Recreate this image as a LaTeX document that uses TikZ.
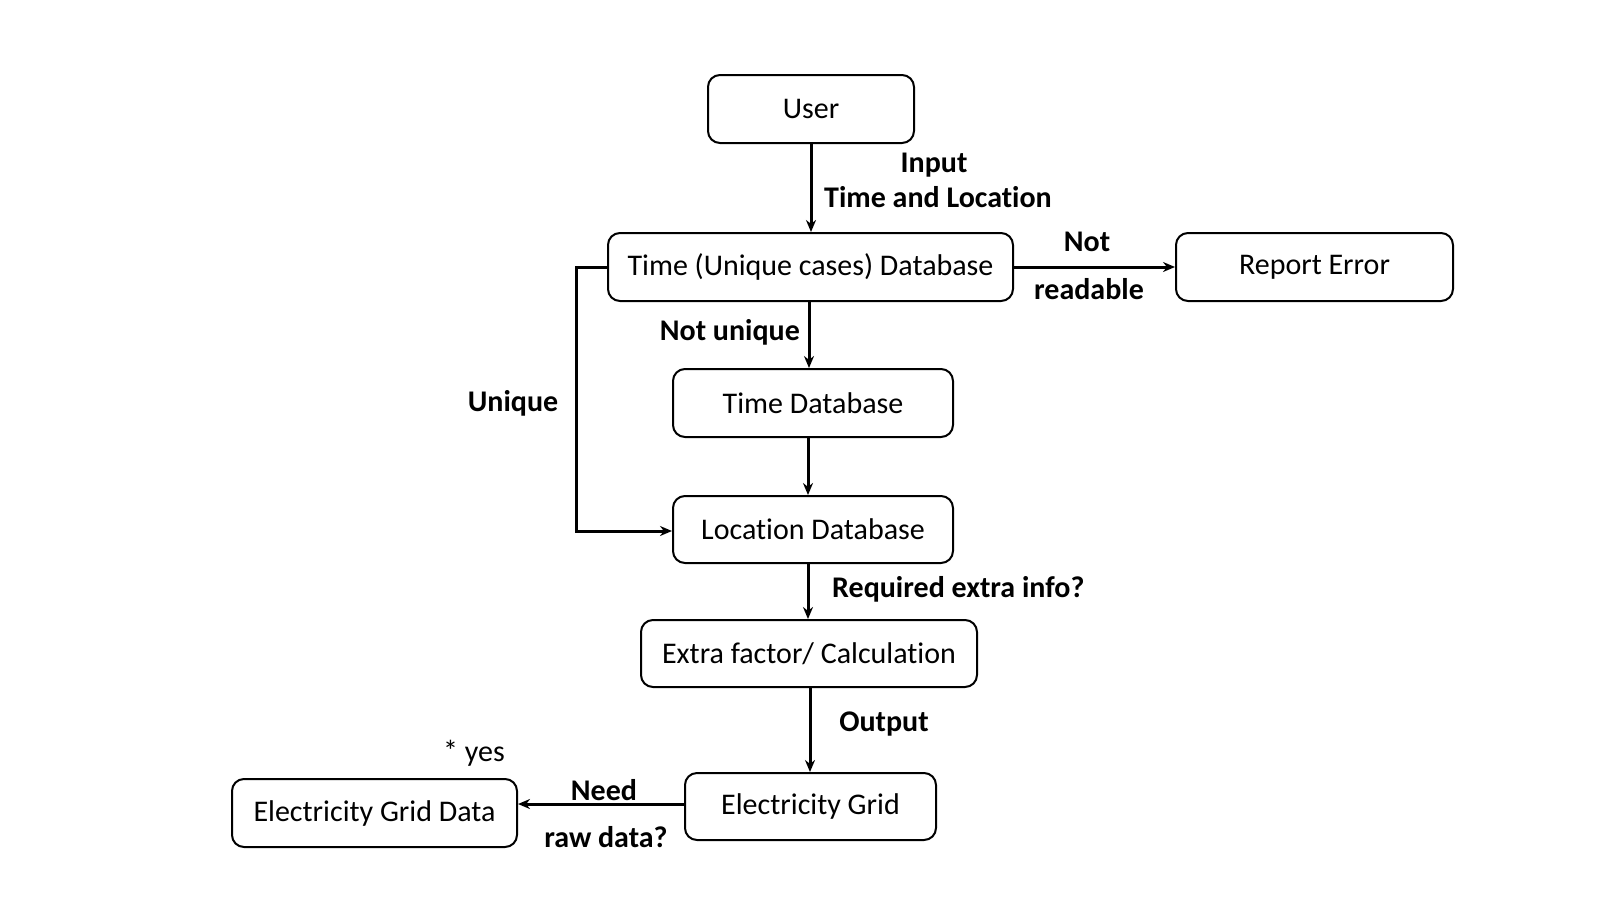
\documentclass[tikz,border=0pt]{standalone}
\usepackage{fontspec}
\setmainfont{Carlito}[Ligatures=NoCommon]
\usetikzlibrary{arrows.meta}
\begin{document}
\begin{tikzpicture}[x=1pt,y=-1pt,
  box/.style={draw=black,line width=2pt,rounded corners=12pt,inner sep=0pt,align=center,font=\fontsize{30}{34}\selectfont},
  lbl/.style={inner sep=0pt,font=\bfseries\fontsize{30}{34}\selectfont,align=left},
  plain/.style={inner sep=0pt,font=\fontsize{30}{34}\selectfont},
  conn/.style={line width=3pt,-{Stealth[length=12pt,width=10pt]}}]
\fill[white] (0,0) rectangle (1620,914);
\useasboundingbox (0,0) rectangle (1620,914);
\node[box,minimum width=206pt,minimum height=68pt] (user) at (811,109) {User};
\node[box,minimum width=405pt,minimum height=68pt] (tucdb) at (810.5,267) {Time (Unique cases) Database};
\node[box,minimum width=277pt,minimum height=68pt] (report) at (1314.5,267) {Report Error};
\node[box,minimum width=280pt,minimum height=68pt] (timedb) at (813,403) {Time Database};
\node[box,minimum width=280pt,minimum height=67pt] (locdb) at (813,529.5) {Location Database};
\node[box,minimum width=336pt,minimum height=67pt] (extra) at (809,653.5) {Extra factor/ Calculation};
\node[box,minimum width=251pt,minimum height=67pt] (grid) at (810.5,806.5) {Electricity Grid};
\node[box,minimum width=285pt,minimum height=68pt] (griddata) at (374.5,813) {Electricity Grid Data};
% labels
\node[lbl] (linput) at (934,165) {Input};
\node[lbl,anchor=west] (ltl) at (824,197) {Time and Location};
\node[lbl] (lnot) at (1087,242) {Not};
\node[lbl] (lread) at (1089,289) {readable};
\node[lbl,anchor=east] (lnu) at (800,332) {Not unique};
\node[lbl] (luni) at (513,403) {Unique};
\node[lbl,anchor=west] (lreq) at (832,589) {Required extra info?};
\node[lbl] (lout) at (884,724) {Output};
\node[plain] (lyes) at (474,753) {* yes};
\node[lbl] (lneed) at (604,790) {Need};
\node[lbl] (lraw) at (606,837) {raw data?};
% connectors
\draw[conn] (user.south) -- (tucdb.north -| user.south);
\draw[conn] (tucdb.east) -- (report.west);
\draw[conn] ([xshift=-1.5pt]tucdb.south) -- ([xshift=-1.5pt]tucdb.south |- timedb.north);
\draw[conn] ([xshift=-5pt]timedb.south) -- ([xshift=-5pt]timedb.south |- locdb.north);
\draw[conn] (tucdb.west) -- ++(-31,0) |- ([yshift=-1.5pt]locdb.west);
\draw[conn] ([xshift=-5pt]locdb.south) -- ([xshift=-5pt]locdb.south |- extra.north);
\draw[conn] ([xshift=1pt]extra.south) -- ([xshift=1pt]extra.south |- grid.north);
\draw[conn] ([yshift=2.5pt]grid.west) -- ([yshift=2.5pt]grid.west -| griddata.east);
\end{tikzpicture}
\end{document}
